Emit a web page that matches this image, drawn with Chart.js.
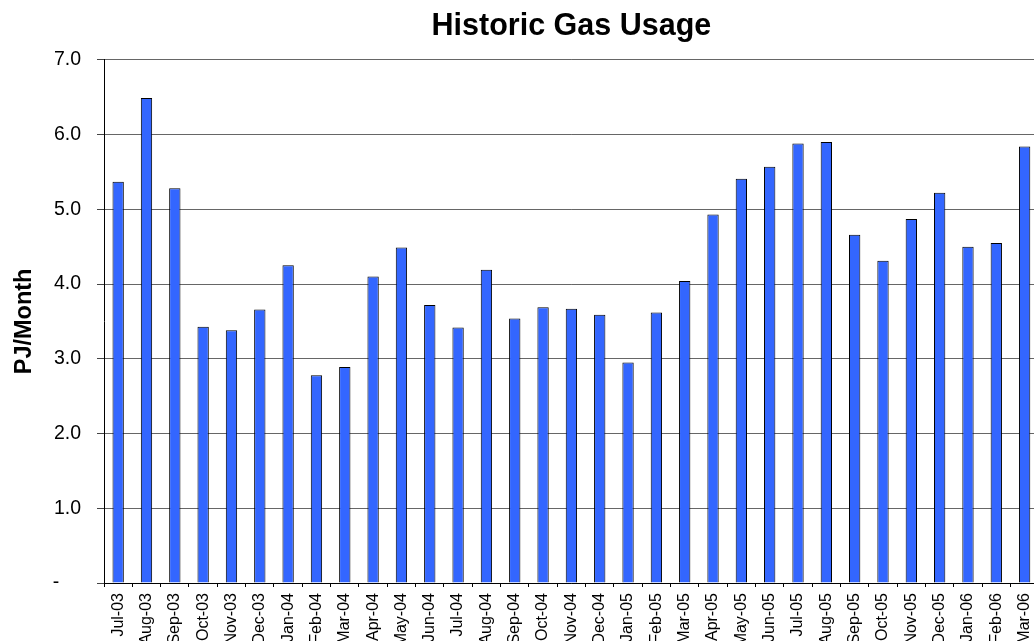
<!DOCTYPE html>
<html>
<head>
<meta charset="utf-8">
<script src="https://cdn.jsdelivr.net/npm/chart.js@4"></script>
<style>
  html, body { margin: 0; padding: 0; background: #fff; overflow: hidden; width: 1034px; height: 641px; }
  #wrap { position: absolute; left: 0; top: 0; width: 1050px; height: 700px; }
</style>
</head>
<body>
<div id="wrap"><canvas id="c" width="1050" height="700"></canvas></div>
<script>
const categories = ["Jul-03","Aug-03","Sep-03","Oct-03","Nov-03","Dec-03","Jan-04","Feb-04","Mar-04","Apr-04","May-04","Jun-04","Jul-04","Aug-04","Sep-04","Oct-04","Nov-04","Dec-04","Jan-05","Feb-05","Mar-05","Apr-05","May-05","Jun-05","Jul-05","Aug-05","Sep-05","Oct-05","Nov-05","Dec-05","Jan-06","Feb-06","Mar-06"];
const gasUsage = [5.37,6.49,5.28,3.43,3.38,3.66,4.25,2.78,2.89,4.10,4.49,3.72,3.42,4.19,3.54,3.69,3.67,3.59,2.95,3.62,4.04,4.93,5.41,5.57,5.88,5.90,4.66,4.31,4.87,5.22,4.50,4.55,5.84];
const yTicks = [0,1,2,3,4,5,6,7];
const chartTitle = "Historic Gas Usage";
const yTitle = "PJ/Month";

const FONT = "'Liberation Sans', Arial, sans-serif";

new Chart(document.getElementById('c'), {
  type: 'bar',
  data: {
    labels: categories,
    datasets: [{
      data: gasUsage,
      backgroundColor: '#3366FF',
      borderColor: '#000000',
      borderWidth: 1,
      barPercentage: 0.4,
      categoryPercentage: 1.0
    }]
  },
  options: {
    responsive: false,
    animation: false,
    layout: { padding: { left: 0, right: 3, top: 0, bottom: 0 } },
    plugins: {
      legend: { display: false },
      tooltip: { enabled: false },
      title: {
        display: true,
        fullSize: false,
        text: chartTitle,
        color: '#000',
        font: { family: FONT, size: 30.5, weight: 'bold', lineHeight: 1.2 },
        padding: { top: 8, bottom: 15.2 }
      }
    },
    scales: {
      x: {
        grid: { display: true, drawOnChartArea: false, drawTicks: true, tickLength: 4, tickColor: '#000', offset: true },
        border: { display: true, color: '#000', width: 1 },
        ticks: {
          color: '#000',
          font: { family: FONT, size: 16 },
          minRotation: 90, maxRotation: 90,
          autoSkip: false,
          padding: 6
        },
        afterFit(scale) { scale.height = 117; }
      },
      y: {
        min: 0, max: 7,
        afterBuildTicks(scale) { scale.ticks = yTicks.map(v => ({ value: v })); },
        grid: { color: '#666', lineWidth: 1, drawTicks: true, tickLength: 7, tickColor: '#444' },
        border: { display: true, color: '#000', width: 1 },
        ticks: {
          color: '#000',
          font: { family: FONT, size: 19.5 },
          padding: 16,
          callback: (v) => v === 0 ? '-    ' : Number(v).toFixed(1)
        },
        title: {
          display: true,
          text: yTitle,
          color: '#000',
          font: { family: FONT, size: 23.5, weight: 'bold', lineHeight: 1.2 },
          padding: { top: 10, bottom: 0 }
        },
        afterFit(scale) { scale.width = 104; }
      }
    }
  }
});
</script>
</body>
</html>
